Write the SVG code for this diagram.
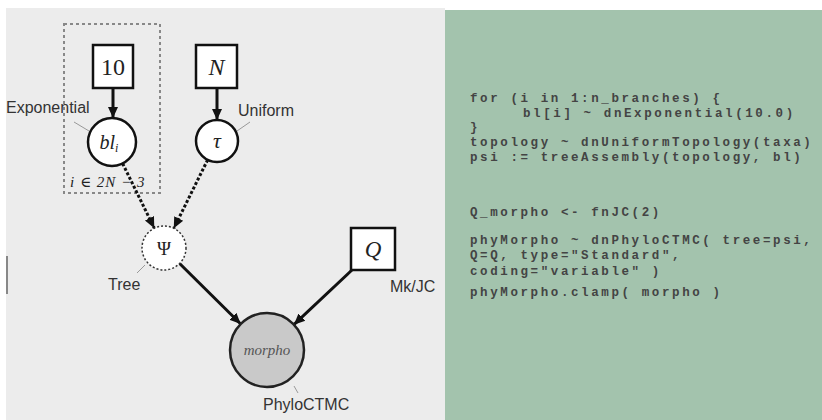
<svg xmlns="http://www.w3.org/2000/svg" width="822" height="420" viewBox="0 0 822 420">
<defs>
<style>
.lbl{font-family:"Liberation Sans",Arial,sans-serif;font-size:16px;fill:#333}
.math{font-family:"Liberation Serif","DejaVu Serif",serif;fill:#222}
.code{font-family:"Liberation Mono","Courier New",monospace;font-size:12.5px;font-weight:bold;fill:#444;letter-spacing:2.6px;white-space:pre}
.node{fill:#fff;stroke:#111;stroke-width:2.5}
.edge{stroke:#111;stroke-width:3;fill:none}
.dot{stroke:#111;stroke-width:3;stroke-dasharray:3 2;fill:none}
.lead{stroke:#999;stroke-width:1;fill:none}
</style>
<marker id="ah" markerUnits="userSpaceOnUse" markerWidth="12" markerHeight="12" refX="11" refY="6" orient="auto">
<path d="M0,1 L11,6 L0,11 z" fill="#111"/>
</marker>
</defs>
<rect x="0" y="0" width="822" height="420" fill="#fff"/>
<rect x="6" y="8" width="439" height="412" fill="#ececec"/>
<rect x="445" y="10" width="377" height="410" fill="#a3c3ad"/>
<rect x="6" y="256" width="2" height="38" fill="#888"/>

<rect x="64" y="24" width="96" height="169" fill="none" stroke="#888" stroke-width="2" stroke-dasharray="3 3"/>
<text class="math" x="70" y="187" font-size="15" font-style="italic" letter-spacing="1">i ∈ 2N − 3</text>

<g id="connectors">
<line class="edge" x1="113" y1="88" x2="113" y2="118" marker-end="url(#ah)"/>
<line class="edge" x1="217" y1="88" x2="217" y2="120" marker-end="url(#ah)"/>
<line class="dot" x1="122.6" y1="163.5" x2="154.3" y2="228.2" marker-end="url(#ah)"/>
<line class="dot" x1="207.7" y1="159.8" x2="173.8" y2="228.3" marker-end="url(#ah)"/>
<line class="edge" x1="179.6" y1="263.5" x2="240.7" y2="324" marker-end="url(#ah)"/>
<line class="edge" x1="352" y1="270" x2="293.9" y2="324.7" marker-end="url(#ah)"/>
<line class="lead" x1="74" y1="122" x2="89" y2="131"/>
<line class="lead" x1="250" y1="122" x2="237" y2="131"/>
<line class="lead" x1="137" y1="273" x2="145" y2="265"/>
<line class="lead" x1="294" y1="386" x2="298" y2="393"/>
</g>

<g id="n10">
<rect class="node" x="93" y="45" width="40" height="43"/>
<text class="math" x="113" y="75" font-size="24" text-anchor="middle">10</text>
</g>
<g id="nN">
<rect class="node" x="196" y="45" width="41" height="43"/>
<text class="math" x="216.5" y="75" font-size="24" font-style="italic" text-anchor="middle">N</text>
</g>
<g id="nbl">
<circle class="node" cx="112" cy="142" r="24"/>
<text class="math" x="109" y="149" font-size="20" font-style="italic" text-anchor="middle">bl<tspan font-size="12" dy="3">i</tspan></text>
<text class="lbl" x="6" y="113">Exponential</text>
</g>
<g id="ntau">
<circle class="node" cx="217" cy="141" r="21"/>
<text class="math" x="217" y="148" font-size="22" font-style="italic" text-anchor="middle">τ</text>
<text class="lbl" x="238" y="116">Uniform</text>
</g>
<g id="npsi">
<circle cx="164" cy="248" r="22" fill="#fff" stroke="#333" stroke-width="1.5" stroke-dasharray="2 2"/>
<text class="math" x="164" y="255" font-size="19" text-anchor="middle">Ψ</text>
<text class="lbl" x="108" y="290">Tree</text>
</g>
<g id="nQ">
<rect class="node" x="351" y="228" width="44" height="42"/>
<text class="math" x="373" y="257" font-size="23" font-style="italic" text-anchor="middle">Q</text>
<text class="lbl" x="390" y="292">Mk/JC</text>
</g>
<g id="nmorpho">
<circle cx="267" cy="350" r="37" fill="#c9c9c9" stroke="#222" stroke-width="2.5"/>
<text class="math" x="267" y="355" font-size="15" font-style="italic" text-anchor="middle" style="fill:#555">morpho</text>
<text class="lbl" x="263" y="410">PhyloCTMC</text>
</g>

<g id="code">
<text class="code" x="470" y="102">for (i in 1:n_branches) {</text>
<text class="code" x="523" y="117">bl[i] ~ dnExponential(10.0)</text>
<text class="code" x="470" y="131">}</text>
<text class="code" x="470" y="146">topology ~ dnUniformTopology(taxa)</text>
<text class="code" x="470" y="161">psi := treeAssembly(topology, bl)</text>
<text class="code" x="470" y="216">Q_morpho &lt;- fnJC(2)</text>
<text class="code" x="470" y="244">phyMorpho ~ dnPhyloCTMC( tree=psi,</text>
<text class="code" x="470" y="259">Q=Q, type="Standard",</text>
<text class="code" x="470" y="275">coding="variable" )</text>
<text class="code" x="470" y="296">phyMorpho.clamp( morpho )</text>
</g>
</svg>
